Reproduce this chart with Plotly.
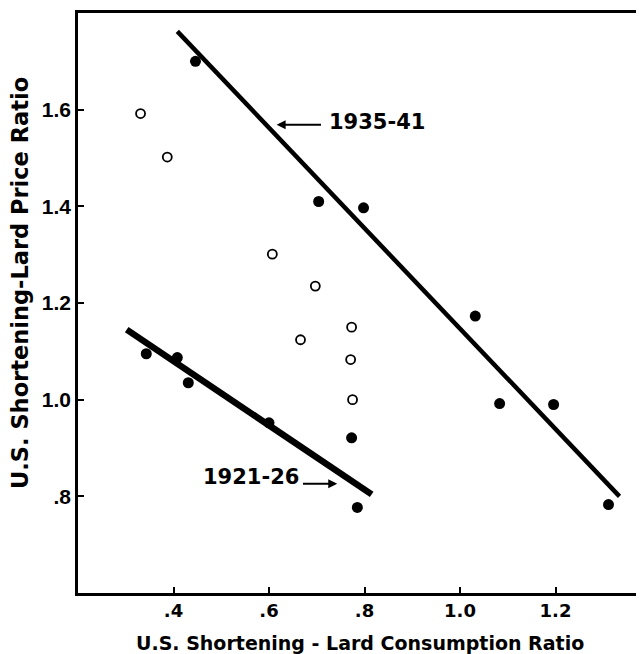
import plotly.graph_objects as go

# Filled points, 1921-26
x_1921 = [0.343, 0.408, 0.431, 0.600, 0.773, 0.785]
y_1921 = [1.095, 1.087, 1.035, 0.952, 0.921, 0.777]
# Filled points, 1935-41
x_1935 = [0.446, 0.704, 0.798, 1.032, 1.083, 1.196, 1.311]
y_1935 = [1.700, 1.410, 1.397, 1.173, 0.992, 0.990, 0.783]
# Hollow points (intervening years)
x_open = [0.331, 0.387, 0.607, 0.697, 0.666, 0.773, 0.771, 0.775]
y_open = [1.592, 1.502, 1.301, 1.235, 1.124, 1.150, 1.083, 1.000]
# Fitted lines
fit1935_x = [0.408, 1.334]
fit1935_y = [1.762, 0.800]
fit1921_x = [0.302, 0.815]
fit1921_y = [1.145, 0.804]

x_ticks = [0.4, 0.6, 0.8, 1.0, 1.2]
x_ticklabels = [".4", ".6", ".8", "1.0", "1.2"]
y_ticks = [0.8, 1.0, 1.2, 1.4, 1.6]
y_ticklabels = [".8", "1.0", "1.2", "1.4", "1.6"]

FONT = "DejaVu Sans"
FONT2 = "Liberation Sans"

fig = go.Figure()
fig.add_trace(go.Scatter(x=fit1935_x, y=fit1935_y, mode="lines",
                         line=dict(color="black", width=4.5), hoverinfo="skip"))
fig.add_trace(go.Scatter(x=fit1921_x, y=fit1921_y, mode="lines",
                         line=dict(color="black", width=6.5), hoverinfo="skip"))
fig.add_trace(go.Scatter(x=x_open, y=y_open, mode="markers",
                         marker=dict(symbol="circle-open", size=9, color="black",
                                     line=dict(width=1.8, color="black"))))
fig.add_trace(go.Scatter(x=x_1921, y=y_1921, mode="markers",
                         marker=dict(symbol="circle", size=11, color="black")))
fig.add_trace(go.Scatter(x=x_1935, y=y_1935, mode="markers",
                         marker=dict(symbol="circle", size=11, color="black")))

# Line labels with pointers
fig.add_annotation(x=0.7225, y=1.575, xref="x", yref="y", text="1935-41",
                   showarrow=False, xanchor="left", yanchor="middle",
                   font=dict(family=FONT, size=21, color="black", weight="bold"))
fig.add_annotation(x=0.616, y=1.569, ax=0.712, ay=1.569, xref="x", yref="y",
                   axref="x", ayref="y", text="", showarrow=True,
                   arrowhead=2, arrowsize=0.9, arrowwidth=2, arrowcolor="black")
fig.add_annotation(x=0.666, y=0.839, xref="x", yref="y", text="1921-26",
                   showarrow=False, xanchor="right", yanchor="middle",
                   font=dict(family=FONT, size=21, color="black", weight="bold"))
fig.add_annotation(x=0.743, y=0.826, ax=0.668, ay=0.826, xref="x", yref="y",
                   axref="x", ayref="y", text="", showarrow=True,
                   arrowhead=2, arrowsize=0.9, arrowwidth=2, arrowcolor="black")

# Axis titles (plot area is 574 x 580 px)
fig.add_annotation(x=-58 / 574, y=0.5345, xref="paper", yref="paper",
                   text="U.S. Shortening-Lard Price Ratio", textangle=-90,
                   showarrow=False, xanchor="center", yanchor="middle",
                   font=dict(family=FONT, size=22.5, color="black", weight="bold"))
fig.add_annotation(x=282 / 574, y=-0.086, xref="paper", yref="paper",
                   text="U.S. Shortening - Lard Consumption Ratio",
                   showarrow=False, xanchor="center", yanchor="middle",
                   font=dict(family=FONT, size=19, color="black", weight="bold"))

fig.update_xaxes(range=[0.2, 0.2 + 574 / 477.5], tickvals=x_ticks, ticktext=x_ticklabels,
                 showgrid=False, zeroline=False, showline=True, linewidth=2.5,
                 linecolor="black", mirror=True, ticks="inside", ticklen=6,
                 tickwidth=2, tickcolor="black",
                 tickfont=dict(family=FONT, size=18, color="black", weight="bold"))
fig.update_yaxes(range=[0.6, 1.8], tickvals=y_ticks, ticktext=y_ticklabels,
                 showgrid=False, zeroline=False, showline=True, linewidth=2.5,
                 linecolor="black", ticks="inside", ticklen=6, tickwidth=2,
                 tickcolor="black",
                 tickfont=dict(family=FONT2, size=21, color="black", weight="bold"))

fig.update_layout(width=644, height=646, margin=dict(l=70, r=0, t=5, b=61),
                  plot_bgcolor="white", paper_bgcolor="white", showlegend=False)

fig.write_html("out.html")
